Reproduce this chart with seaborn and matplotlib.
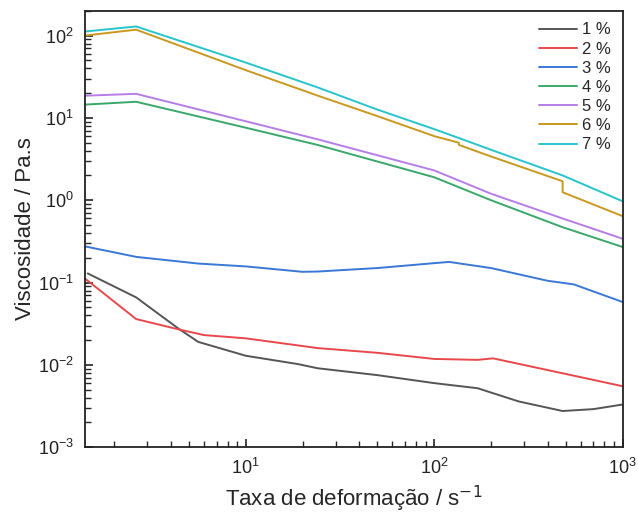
import pandas as pd
import matplotlib
matplotlib.use("Agg")
import matplotlib.pyplot as plt
import seaborn as sns
from matplotlib.ticker import LogLocator, NullFormatter

# dados (viscosidade x taxa de deformação)
labels = ['1 %', '2 %', '3 %', '4 %', '5 %', '6 %', '7 %']
cores = ['#555555', '#e8484c', '#3a78d6', '#3aa86a', '#b77de6', '#c9991f', '#27c4cc']

x1 = [1.45, 2.62, 4.4, 5.6, 10, 19, 24, 50, 100, 170, 280, 480, 700, 1000]
y1 = [0.129, 0.066, 0.0275, 0.019, 0.0129, 0.0102, 0.0091, 0.0075, 0.006, 0.0052, 0.0036, 0.00275, 0.0029, 0.0033]

x2 = [1.4, 2.62, 4.4, 6, 10, 24, 50, 100, 170, 205, 480, 1000]
y2 = [0.112, 0.036, 0.027, 0.023, 0.021, 0.016, 0.014, 0.0118, 0.0115, 0.012, 0.0079, 0.0055]

x3 = [1.4, 2.62, 5.6, 10, 20, 24, 50, 100, 120, 200, 400, 550, 1000]
y3 = [0.275, 0.205, 0.17, 0.157, 0.135, 0.136, 0.15, 0.172, 0.178, 0.15, 0.105, 0.095, 0.058]

x4 = [1.4, 2.62, 10, 24, 100, 200, 480, 1000]
y4 = [14.5, 15.7, 7.6, 4.7, 1.9, 1.0, 0.47, 0.27]

x5 = [1.4, 2.62, 10, 24, 100, 200, 480, 1000]
y5 = [18.6, 19.6, 9.1, 5.5, 2.3, 1.2, 0.6, 0.34]

x6 = [1.4, 2.62, 10, 24, 50, 100, 135, 135, 200, 480, 480, 1000]
y6 = [100, 118, 38, 18.7, 10.5, 6.0, 5.0, 4.7, 3.4, 1.7, 1.25, 0.64]

x7 = [1.4, 2.62, 10, 24, 50, 100, 135, 200, 480, 1000]
y7 = [112, 129, 47, 23.5, 12.6, 7.3, 5.7, 4.1, 2.0, 0.97]

series = [(x1, y1), (x2, y2), (x3, y3), (x4, y4), (x5, y5), (x6, y6), (x7, y7)]
frames = []
for lab, (xs, ys) in zip(labels, series):
    frames.append(pd.DataFrame({'taxa': xs, 'visc': ys, 'conc': lab}))
df = pd.concat(frames, ignore_index=True)

sns.set_style('ticks')
plt.rcParams['font.family'] = ['Liberation Sans', 'DejaVu Sans']

fig = plt.figure(figsize=(6.38, 5.14), dpi=100)
ax = fig.add_axes([0.133, 0.130, 0.843, 0.849])

sns.lineplot(data=df, x='taxa', y='visc', hue='conc', palette=cores,
             estimator=None, sort=False, units='conc', linewidth=1.4, ax=ax)

ax.set_xscale('log')
ax.set_yscale('log')
ax.set_xlim(1.4, 1000)
ax.set_ylim(1e-3, 200)

ax.xaxis.set_major_locator(LogLocator(base=10, numticks=10))
ax.xaxis.set_minor_locator(LogLocator(base=10, subs=range(2, 10), numticks=20))
ax.xaxis.set_minor_formatter(NullFormatter())
ax.yaxis.set_major_locator(LogLocator(base=10, numticks=10))
ax.yaxis.set_minor_locator(LogLocator(base=10, subs=range(2, 10), numticks=20))
ax.yaxis.set_minor_formatter(NullFormatter())

ax.tick_params(which='major', direction='in', length=6, width=1.2, labelsize=13, pad=8, colors='#222222')
ax.tick_params(which='minor', direction='in', length=4, width=1.0)
for sp in ax.spines.values():
    sp.set_linewidth(1.3)
    sp.set_color('#222222')

ax.set_xlabel('Taxa de deformação / s$^{-1}$', fontsize=16, labelpad=4)
ax.set_ylabel('Viscosidade / Pa.s', fontsize=16, labelpad=1)

leg = ax.legend(loc='upper right', frameon=False, fontsize=12, handlelength=2.3,
                handletextpad=0.3, labelspacing=0.25, borderaxespad=0.3)
leg.set_title(None)

fig.savefig('out.png', dpi=100)
